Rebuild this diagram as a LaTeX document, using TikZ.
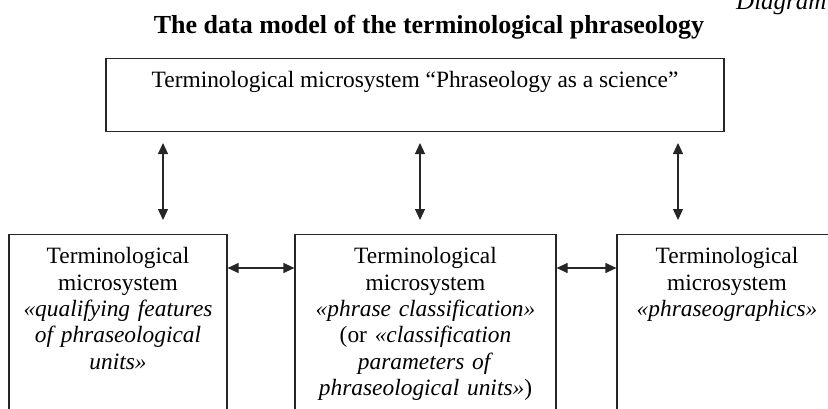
\documentclass[tikz,border=0pt]{standalone}
\usepackage{fontspec}
\setmainfont{Liberation Serif}
\usetikzlibrary{arrows.meta}
\tikzstyle{micro}=[draw=black!85, line width=1.2pt, anchor=north, align=center, inner xsep=4pt, inner ysep=13pt, text height=16pt, font=\fontsize{23.4}{26.4}\selectfont]
\tikzstyle{sub}=[micro, text depth=175pt]
\tikzstyle{link}=[line width=1.2pt, draw=black!85, {Triangle[length=11pt,width=10pt]}-{Triangle[length=11pt,width=10pt]}]

\begin{document}
\begin{tikzpicture}[x=1pt, y=-1pt]
                    \useasboundingbox (0,0) rectangle (828,408);
                    \node[anchor=base west, inner sep=0pt, font=\itshape\fontsize{25}{29}\selectfont] (diag) at (736,9) {Diagram};
                    \node[anchor=base, font=\bfseries\fontsize{26}{30}\selectfont] (title) at (429,33) {The data model of the terminological phraseology};
                    \node[micro, minimum width=618pt, text depth=31pt] (sci) at (415,58) {Terminological microsystem “Phraseology as a science”};
                    \node[sub, text width=210pt] (feat) at (118,234) {Terminological\\ microsystem\\ \textit{«qualifying features}\\ \textit{of phraseological}\\ \textit{units»}};
                    \node[sub, text width=253pt] (cls) at (425.5,234) {Terminological\\ microsystem\\ \textit{«phrase classification»}\\ (or \textit{«classification}\\ \textit{parameters of}\\ \textit{phraseological units»})};
                    \node[sub, text width=212pt] (graph) at (727,234) {Terminological\\ microsystem\\ \textit{«phraseographics»}};
                    \coordinate (t1) at (163,143);
                    \coordinate (t2) at (420,143);
                    \coordinate (t3) at (678,143);
                    \coordinate (b1) at (163,220);
                    \coordinate (b2) at (420,220);
                    \coordinate (b3) at (678,220);
                    \draw[link] (t1)--(b1);
                    \draw[link] (t2)--(b2);
                    \draw[link] (t3)--(b3);
                    \draw[link] ([yshift=-34pt]feat.north east)--([yshift=-34pt]cls.north west);
                    \draw[link] ([yshift=-34pt]cls.north east)--([yshift=-34pt]graph.north west);
                \end{tikzpicture}
\end{document}
